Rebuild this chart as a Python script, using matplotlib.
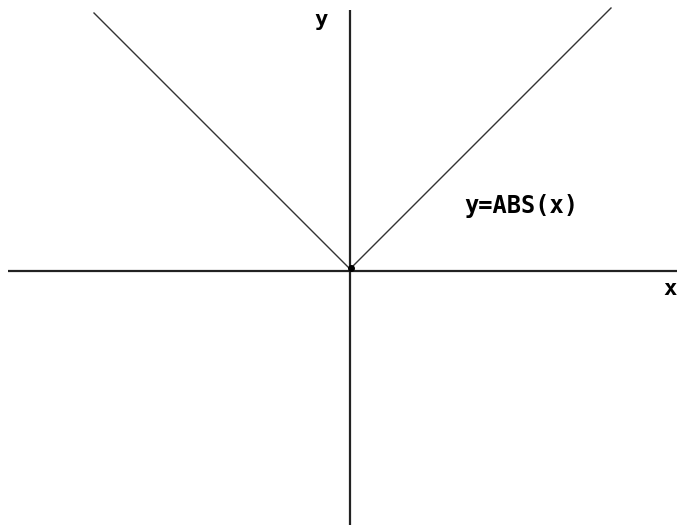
import matplotlib
matplotlib.use("Agg")
import matplotlib.pyplot as plt
import numpy as np

# data: y = |x|, sampled at the drawn end points and the vertex
x_vals = [-256, 0, 261]
y_vals = [abs(v) for v in x_vals]
label_text = "y=ABS(x)"
x_axis_label = "x"
y_axis_label = "y"

fig = plt.figure(figsize=(6.93, 5.25), dpi=100)
ax = fig.add_axes([0, 0, 1, 1])
# data units = pixels, origin at the vertex (pixel 350, 269)
ax.set_xlim(-350, 343)
ax.set_ylim(-256, 269)
ax.axis("off")

# axes
ax.plot([-342, 327], [-2, -2], color="#222222", lw=1.6, solid_capstyle="butt")
ax.plot([0, 0], [-256, 259], color="#222222", lw=1.6, solid_capstyle="butt")

# function line
ax.plot(x_vals, y_vals, color="#333333", lw=1.0)
ax.plot([1], [1], marker="o", ms=4, color="black")

font = dict(family="DejaVu Sans Mono", fontweight="bold", color="black")
ax.text(-29, 249, y_axis_label, fontsize=16, ha="center", va="center", **font)
ax.text(320, -20, x_axis_label, fontsize=16, ha="center", va="center", **font)
ax.text(171, 63, label_text, fontsize=17, ha="center", va="center", **font)

fig.savefig("out.png", dpi=100)
